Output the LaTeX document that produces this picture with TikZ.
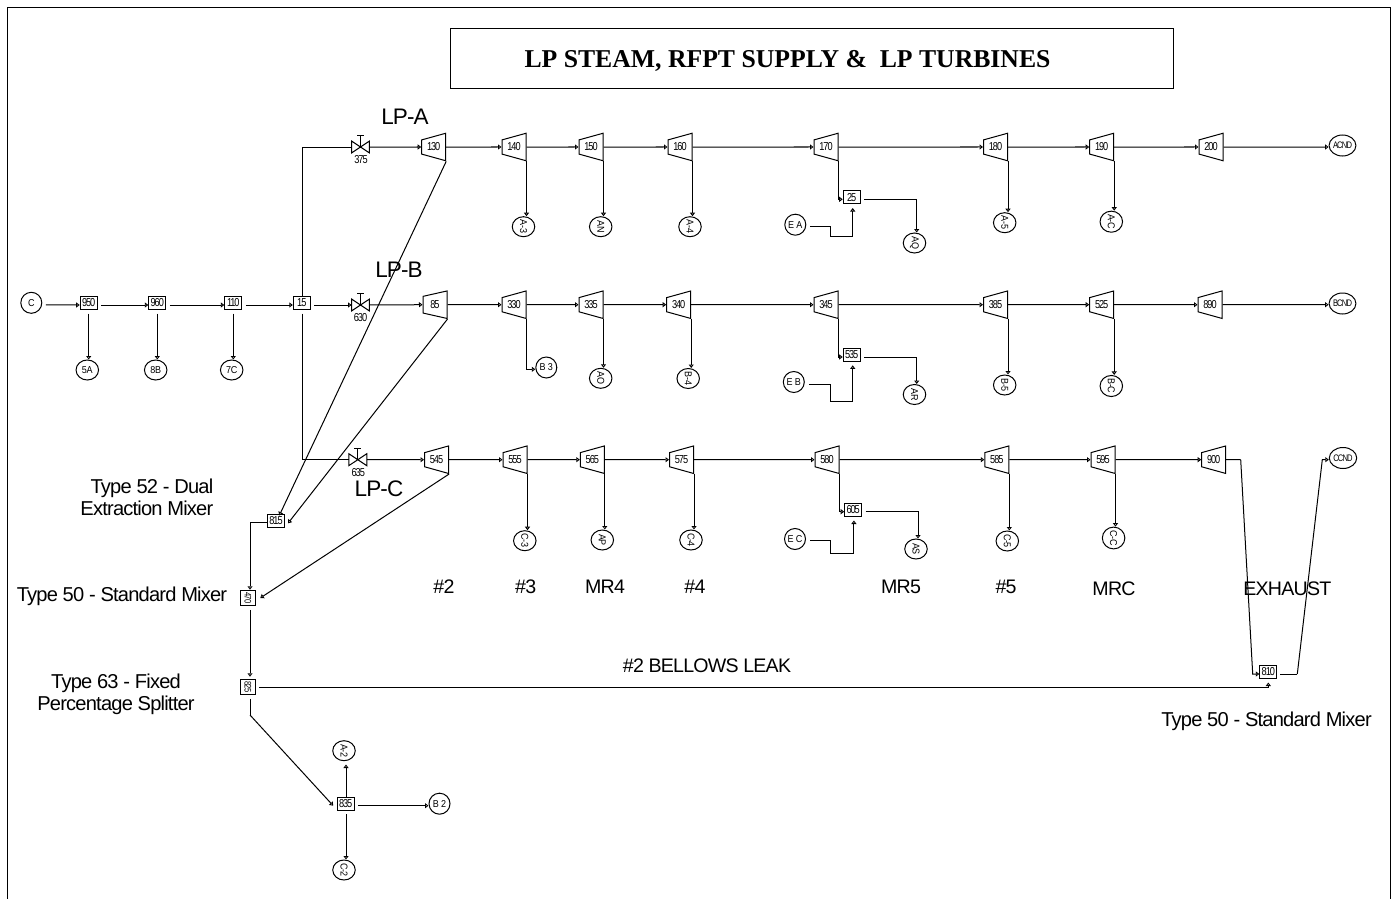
\documentclass[tikz,border=0pt]{standalone}
\usepackage{fontspec}
\usepackage{tikz}
\usetikzlibrary{arrows.meta,calc,positioning,shapes.geometric}
\setmainfont{Liberation Sans}
\newfontfamily\numfont[FakeStretch=0.8,LetterSpace=-9]{Liberation Sans}
\newfontfamily\termfont[FakeStretch=0.9,LetterSpace=-3]{Liberation Sans}
\newfontfamily\bigfont[LetterSpace=-4]{Liberation Sans}
\newfontfamily\headfont{Liberation Serif}
\newcommand{\dn}[1]{\rotatebox{-90}{#1}}
\newcommand{\valvebody}[1]{%
  \draw[pipe] (#1.north west) -- (#1.south east) -- (#1.north east) -- (#1.south west) -- cycle;
  \draw[pipe] (#1.center) -- ++(0,-11.5) ++(-3.5,0) -- ++(7,0);}
\tikzset{
  pipe/.style={line width=1pt,line join=miter},
  flow/.style={pipe,-{Triangle[open,length=3.5pt,width=5pt]}},
  gapflow/.style={flow,shorten <=3.5pt},
  turb/.style={draw,line width=1pt,trapezium,shape border rotate=90,trapezium angle=74,trapezium stretches=true,
    minimum width=27.5pt,minimum height=24pt,inner sep=0pt,font=\fontsize{11.5}{11.5}\numfont},
  proc/.style={draw,line width=1pt,fill=white,rectangle,minimum width=17pt,minimum height=13pt,inner sep=0pt,font=\fontsize{11.5}{11.5}\numfont},
  procv/.style={proc,minimum width=14.5pt,minimum height=15.5pt,font=\fontsize{9.5}{9.5}\numfont},
  term/.style={draw,line width=1pt,ellipse,minimum width=22.5pt,minimum height=20pt,inner sep=0pt,font=\fontsize{10}{10}\termfont},
  termr/.style={term,minimum width=21pt,minimum height=21pt},
  cnd/.style={termr,font=\fontsize{9.5}{9.5}\numfont},
  vlv/.style={rectangle,minimum width=17.5pt,minimum height=11.5pt,inner sep=0pt},
  tag/.style={inner sep=0pt,font=\fontsize{11.5}{11.5}\numfont},
  note/.style={inner sep=0pt,align=center,font=\fontsize{19.6}{22.5}\bigfont},
  typenote/.style={inner sep=0pt,align=right,font=\fontsize{20.1}{22.5}\bigfont},
  big/.style={inner sep=0pt,font=\fontsize{22.5}{22.5}\bigfont}
}
\begin{document}
\begin{tikzpicture}[x=1pt,y=-1pt]
  \useasboundingbox (0,0) rectangle (1395,899);
  % Ramme og titel
  \draw[line width=1pt] (7.5,899) -- (7.5,8) -- (1390.7,8) -- (1390.7,899);
  \node[draw,line width=1pt,minimum width=723pt,minimum height=59pt,inner sep=0pt] (titlebox) at (811.5,58.5) {};
  \node[inner sep=0pt,font=\fontsize{25.7}{25.7}\headfont\bfseries] (title) at (787.5,61) {LP STEAM, RFPT SUPPLY \&\ \ LP TURBINES};

  % Forsyning
  \node[termr] (src) at (31.3,302.8) {C};
  \node[proc] (b950) at (88.7,303) {950};
  \node[proc] (b960) at (157.3,303) {960};
  \node[proc] (b110) at (233.3,303) {110};
  \node[proc] (b15) at (301.8,303) {15};
  \node[term] (f5a) at (87.3,370) {5A};
  \node[term] (f8b) at (155.7,370) {8B};
  \node[term] (f7c) at (231.7,370) {7C};
  \draw[gapflow] ([yshift=-2pt]src.east) -- ([yshift=-2pt]b950.west);
  \draw[gapflow] ([yshift=-2pt]b950.east) -- ([yshift=-2pt]b960.west);
  \draw[gapflow] ([yshift=-2pt]b960.east) -- ([yshift=-2pt]b110.west);
  \draw[gapflow] ([yshift=-2pt]b110.east) -- ([yshift=-2pt]b15.west);
  \draw[gapflow] (b950.south) -- (b950.south |- f5a.north);
  \draw[gapflow] (b960.south) -- (b960.south |- f8b.north);
  \draw[gapflow] (b110.south) -- (b110.south |- f7c.north);

  % Ventiler
  \node[vlv] (v375) at (360.5,147) {};
  \node[vlv] (v630) at (360.5,305) {};
  \node[vlv] (v635) at (357.8,459.7) {};
  \valvebody{v375}
  \valvebody{v630}
  \valvebody{v635}
  \node[tag] (l375) at (361,159.5) {375};
  \node[tag] (l630) at (360.5,317.5) {630};
  \node[tag] (l635) at (358.3,472.5) {635};

  % Raekke A
  \node[turb] (t130) at (433.7,147) {130};
  \node[turb] (t140) at (514,147) {140};
  \node[turb] (t150) at (591,147) {150};
  \node[turb] (t160) at (680,147) {160};
  \node[turb] (t170) at (826,147) {170};
  \node[turb] (t180) at (995.5,147) {180};
  \node[turb] (t190) at (1101.7,147) {190};
  \node[turb] (t200) at (1211,147) {200};
  \node[term] (a3) at (523.5,226.7) {\dn{A-3}};
  \node[term] (an) at (600.7,226.7) {\dn{AN}};
  \node[term] (a4) at (690,226.7) {\dn{A-4}};
  \node[term] (aq) at (914.5,243) {\dn{AQ}};
  \node[term] (a5) at (1004.7,222.7) {\dn{A-5}};
  \node[term] (ac) at (1111.3,221.7) {\dn{A-C}};
  \node[termr] (ea) at (795.3,224.7) {E A};
  \node[cnd] (acnd) at (1342.5,145.5) {ACND};
  \node[proc] (b25) at (851.7,197.3) {25};
  \coordinate (trunk) at (302.3,147);
  \coordinate (ea1) at (830.7,236.3);
  \draw[pipe] ([xshift=0.5pt]b15.north) -- (trunk) -- (v375.west);
  \draw[flow] (v375.east) -- (t130.west);
  \draw[flow] (t130.east) -- (t140.west);
  \draw[flow] (t140.east) -- (t150.west);
  \draw[flow] (t150.east) -- (t160.west);
  \draw[flow] (t160.east) -- (t170.west);
  \draw[flow] (t170.east) -- (t180.west);
  \draw[flow] (t180.east) -- (t190.west);
  \draw[flow] (t190.east) -- (t200.west);
  \draw[flow] (t200.east) -- ([yshift=-1.5pt]acnd.west);
  \draw[flow] (t140.bottom left corner) -- (t140.bottom left corner |- a3.north);
  \draw[flow] (t150.bottom left corner) -- (t150.bottom left corner |- an.north);
  \draw[flow] (t160.bottom left corner) -- (t160.bottom left corner |- a4.north);
  \draw[flow] (t180.bottom left corner) -- (t180.bottom left corner |- a5.north);
  \draw[flow] (t190.bottom left corner) -- (t190.bottom left corner |- ac.north);
  \draw[flow] (t170.bottom left corner) |- ([yshift=-2pt]b25.west);
  \draw[flow,shorten >=3.7pt,shorten <=4pt] ([yshift=-2.pt]ea.east) -| (ea1) -| ([xshift=1pt]b25.south);
  \draw[gapflow] ([yshift=-2pt]b25.east) -| ([xshift=2.2pt]aq.north);

  % Raekke B
  \node[turb] (t85) at (435,304.7) {85};
  \node[turb] (t330) at (514,304.7) {330};
  \node[turb] (t335) at (591,304.7) {335};
  \node[turb] (t340) at (678.7,304.7) {340};
  \node[turb] (t345) at (826,304.7) {345};
  \node[turb] (t385) at (995.5,304.7) {385};
  \node[turb] (t525) at (1101.7,304.7) {525};
  \node[turb] (t890) at (1210,304.7) {890};
  \node[termr] (b3) at (546.3,367.5) {B 3};
  \node[term] (ao) at (600.7,378.3) {\dn{AO}};
  \node[term] (b4) at (688.2,378.5) {\dn{B-4}};
  \node[term] (ar) at (914.5,394.5) {\dn{AR}};
  \node[term] (b5) at (1004.7,385) {\dn{B-5}};
  \node[term] (bc) at (1111.3,386) {\dn{B-C}};
  \node[termr] (eb) at (793.8,382) {E B};
  \node[cnd] (bcnd) at (1342.5,303.5) {BCND};
  \node[proc] (b535) at (851.7,355) {535};
  \coordinate (eb1) at (830.7,401);
  \draw[gapflow] ([yshift=-2pt]b15.east) -- (v630.west);
  \draw[flow] (v630.east) -- (t85.west);
  \draw[flow] (t85.east) -- (t330.west);
  \draw[flow] (t330.east) -- (t335.west);
  \draw[flow] (t335.east) -- (t340.west);
  \draw[flow] (t340.east) -- (t345.west);
  \draw[flow] (t345.east) -- (t385.west);
  \draw[flow] (t385.east) -- (t525.west);
  \draw[flow] (t525.east) -- (t890.west);
  \draw[flow] (t890.east) -- ([yshift=-1.2pt]bcnd.west);
  \draw[flow] (t330.bottom left corner) |- ([yshift=-1.8pt]b3.west);
  \draw[flow] (t335.bottom left corner) -- (t335.bottom left corner |- ao.north);
  \draw[flow] (t340.bottom left corner) -- (t340.bottom left corner |- b4.north);
  \draw[flow] (t385.bottom left corner) -- (t385.bottom left corner |- b5.north);
  \draw[flow] (t525.bottom left corner) -- (t525.bottom left corner |- bc.north);
  \draw[flow] (t345.bottom left corner) |- ([yshift=-2pt]b535.west);
  \draw[flow,shorten >=3.3pt,shorten <=4pt] ([yshift=-2.3pt]eb.east) -| (eb1) -| ([xshift=1pt]b535.south);
  \draw[gapflow] ([yshift=-2pt]b535.east) -| ([xshift=2.2pt]ar.north);

  % Raekke C
  \node[turb] (t545) at (436.5,459.7) {545};
  \node[turb] (t555) at (515,459.7) {555};
  \node[turb] (t565) at (592.3,459.7) {565};
  \node[turb] (t575) at (681.5,459.7) {575};
  \node[turb] (t580) at (827,459.7) {580};
  \node[turb] (t585) at (996.8,459.7) {585};
  \node[turb] (t595) at (1103,459.7) {595};
  \node[turb] (t900) at (1213.7,459.7) {900};
  \node[term] (c3) at (524.8,540.7) {\dn{C-3}};
  \node[term] (ap) at (602.3,540) {\dn{AP}};
  \node[term] (c4) at (691,540) {\dn{C-4}};
  \node[term] (as) at (916,549) {\dn{AS}};
  \node[term] (c5) at (1007.3,541) {\dn{C-5}};
  \node[term] (cc) at (1113.6,538) {\dn{C-C}};
  \node[termr] (ec) at (795,539) {E C};
  \node[cnd] (ccnd) at (1343,458) {CCND};
  \node[proc] (b605) at (853.2,510) {605};
  \coordinate (ec1) at (830.5,553);
  \draw[pipe] ([xshift=0.5pt]b15.south) ++(0,3.5) -- (302.3,459.7) -- (v635.west);
  \draw[flow] (v635.east) -- (t545.west);
  \draw[flow] (t545.east) -- (t555.west);
  \draw[flow] (t555.east) -- (t565.west);
  \draw[flow] (t565.east) -- (t575.west);
  \draw[flow] (t575.east) -- (t580.west);
  \draw[flow] (t580.east) -- (t585.west);
  \draw[flow] (t585.east) -- (t595.west);
  \draw[flow] (t595.east) -- (t900.west);
  \draw[flow] (t555.bottom left corner) -- (t555.bottom left corner |- c3.north);
  \draw[flow] (t565.bottom left corner) -- (t565.bottom left corner |- ap.north);
  \draw[flow] (t575.bottom left corner) -- (t575.bottom left corner |- c4.north);
  \draw[flow] (t585.bottom left corner) -- (t585.bottom left corner |- c5.north);
  \draw[flow] (t595.bottom left corner) -- (t595.bottom left corner |- cc.north);
  \draw[flow] (t580.bottom left corner) |- ([yshift=-1.7pt]b605.west);
  \draw[flow,shorten >=3.5pt,shorten <=4pt] ([yshift=-1.3pt]ec.east) -| (ec1) -| ([xshift=0.7pt]b605.south);
  \draw[gapflow] ([yshift=-1.7pt]b605.east) -| ([xshift=2pt]as.north);

  % Blandere og bellows-laekage
  \node[proc] (b815) at (276,521) {815};
  \node[procv] (b470) at (248,598) {\dn{470}};
  \node[procv] (b825) at (248,687) {\dn{825}};
  \node[proc] (b835) at (345.7,803.7) {835};
  \node[proc] (b810) at (1268.3,672) {810};
  \node[term] (a2) at (344,750.7) {\dn{A-2}};
  \node[term] (c2) at (344,870) {\dn{C-2}};
  \node[termr] (b2) at (439.5,803.7) {B 2};
  \coordinate (ex1) at (1240.7,459.7);
  \coordinate (ex2) at (1252.7,674);
  \coordinate (ex3) at (1297.3,674);
  \coordinate (ex4) at (1322.3,459.7);
  \coordinate (lk1) at (250,715);
  \draw[flow] (t130.bottom left corner) -- ([xshift=3.3pt,yshift=-1.5pt]b815.north);
  \draw[flow] (t85.bottom left corner) -- ([xshift=3pt,yshift=-2.3pt]b815.east);
  \draw[flow] (t545.bottom left corner) -- ([xshift=4.5pt]b470.east);
  \draw[flow] ([yshift=-1.7pt]b815.west) -| ([xshift=2pt]b470.north);
  \draw[flow,shorten <=3.5pt,shorten >=2pt] ([xshift=2pt]b470.south) -- ([xshift=2pt]b825.north);
  \draw[pipe,shorten <=3.5pt] ([xshift=2pt]b825.south) -- (lk1);
  \draw[flow] (lk1) -- ([xshift=-3.5pt,yshift=-2pt]b835.west);
  \draw[flow,shorten <=3.5pt,shorten >=3.5pt] ([yshift=-0.7pt]b825.east) -| (b810.south);
  \draw[pipe] (t900.east) -- (ex1);
  \draw[flow] (ex1) -- (ex2) -- ([yshift=-2pt]b810.west);
  \draw[pipe,shorten <=3pt] ([yshift=-2pt]b810.east) -- (ex3);
  \draw[flow] (ex3) -- (ex4) -- ([yshift=-1.7pt]ccnd.west);
  \draw[flow,shorten >=3.3pt] ([xshift=0.3pt]b835.north) -- ([xshift=2pt]a2.south);
  \draw[gapflow] ([xshift=0.3pt]b835.south) -- ([xshift=2pt]c2.north);
  \draw[gapflow] ([yshift=-2pt]b835.east) -- ([yshift=-2pt]b2.west);

  % Tekster
  \node[big] (lpa) at (405,116.7) {LP-A};
  \node[big] (lpb) at (399,270) {LP-B};
  \node[big] (lpc) at (379,488.3) {LP-C};
  \node[note] (n2) at (444,587) {\#2};
  \node[note] (n3) at (525.7,587) {\#3};
  \node[note] (nm4) at (605,587) {MR4};
  \node[note] (n4) at (695,587) {\#4};
  \node[note] (nm5) at (901,587) {MR5};
  \node[note] (n5) at (1006,587) {\#5};
  \node[note] (nmc) at (1114,589) {MRC};
  \node[note] (nex) at (1287.3,589) {EXHAUST};
  \node[note] (nlk) at (707,666) {\#2 BELLOWS LEAK};
  \node[typenote,anchor=east] (nt52) at (213.5,497.5) {Type 52 - Dual\\Extraction Mixer};
  \node[typenote] (nt50) at (122,596) {Type 50 - Standard Mixer};
  \node[note,font=\fontsize{20.1}{22.5}\bigfont] (nt63) at (116,694.5) {Type 63 - Fixed\\Percentage Splitter};
  \node[typenote] (nt50b) at (1266.5,721) {Type 50 - Standard Mixer};
\end{tikzpicture}
\end{document}
